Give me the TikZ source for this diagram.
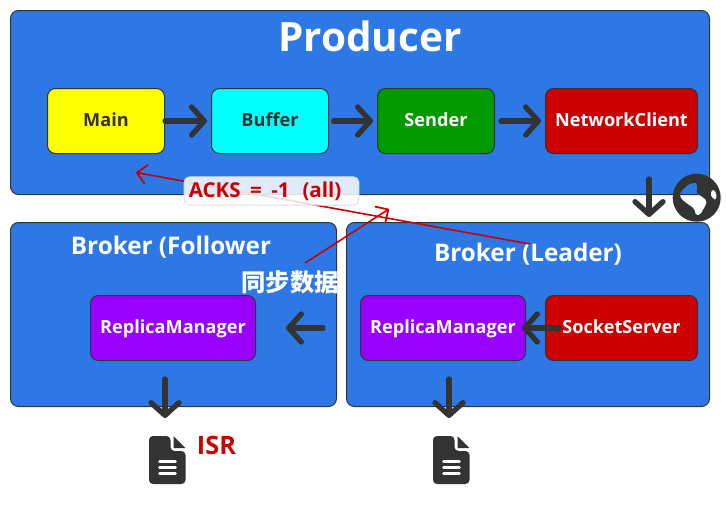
\documentclass[tikz,border=0pt]{standalone}
\usepackage{fontspec}
\setmainfont{Open Sans}
\newfontfamily\cjkfont{Noto Sans CJK SC}
\usetikzlibrary{arrows.meta,positioning,calc}
\definecolor{panelblue}{RGB}{45,120,228}
\definecolor{darkline}{RGB}{51,51,51}
\definecolor{ackred}{RGB}{204,0,0}
\definecolor{rmpurple}{RGB}{153,0,255}
\definecolor{sendgreen}{RGB}{0,153,0}
\definecolor{mainyellow}{RGB}{255,255,0}
\definecolor{buffercyan}{RGB}{0,255,255}
\tikzset{
    fileicon/.pic={
        \fill[darkline, rounded corners=3] (149,436) -- (170.5,436) -- (170.5,451) -- (185.5,451) -- (185.5,484) -- (149,484) -- cycle;
        \fill[darkline] (173.5,436) -- (185.5,448) -- (173.5,448) -- cycle;
        \foreach \ly in {461.5,467.5,473.5} {
            \draw[white, line width=1.9pt, line cap=round] (159.5,\ly) -- (175.5,\ly);
        }
    },
}

\begin{document}
\begin{tikzpicture}[
    x=0.75pt, y=-0.75pt,
    panel_box/.style={draw=darkline, fill=panelblue, rounded corners=6, line width=0.75pt},
    part_box/.style={draw=darkline, rounded corners=6, line width=0.75pt, inner sep=0pt, text=white, text height=10pt, text depth=2.5pt, font=\fontsize{13.6}{16}\selectfont\bfseries},
    dark_text/.style={text=darkline},
    title_text/.style={text=white, font=\fontsize{18.2}{22}\selectfont\bfseries},
    flow_arrow/.style={-{Straight Barb[length=9.5pt, width=21pt, round, line width=4pt]}, line width=4pt, line cap=round, draw=darkline},
    red_arrow/.style={-{Straight Barb[length=7pt, width=14pt, round, line width=1.3pt]}, line width=1.2pt, draw=ackred},
]
\path[fill=white, use as bounding box] (0,0) rectangle (726,507);

% Panels
\node[panel_box, minimum width=524.25pt, minimum height=138pt] (producer) at (360,102.5) {};
\node[panel_box, minimum width=244.5pt, minimum height=138pt] (follower) at (173.5,314.5) {};
\node[panel_box, minimum width=272.25pt, minimum height=138pt] (leader) at (528,314.5) {};

\node[text=white, font=\fontsize{30.3}{36}\selectfont\bfseries] (producer_title) at (370,36) {Producer};
\node[title_text] (follower_title) at (171,247) {Broker (Follower};
\node[title_text] (leader_title) at (528,254.5) {Broker (Leader)};

% Producer parts
\node[part_box, dark_text, fill=mainyellow, minimum width=87.75pt, minimum height=48.75pt] (main) at (106,121) {Main};
\node[part_box, dark_text, fill=buffercyan, minimum width=87.75pt, minimum height=48.75pt] (buffer) at (270,121) {Buffer};
\node[part_box, fill=sendgreen, minimum width=87.75pt, minimum height=48.75pt] (sender) at (436,121) {Sender};
\node[part_box, fill=ackred, minimum width=114pt, minimum height=48.75pt] (client) at (621.5,121) {NetworkClient};

% Broker parts
\node[part_box, fill=rmpurple, minimum width=123.75pt, minimum height=48.75pt] (follower_rm) at (173,328) {ReplicaManager};
\node[part_box, fill=rmpurple, minimum width=123.75pt, minimum height=48.75pt] (leader_rm) at (443,328) {ReplicaManager};
\node[part_box, fill=ackred, minimum width=114pt, minimum height=48.75pt] (socket) at (621.5,328) {SocketServer};

% Flow arrows
\draw[flow_arrow, shorten >=3pt] (main) -- (buffer);
\draw[flow_arrow, shorten <=3.5pt, shorten >=3pt] (buffer) -- (sender);
\draw[flow_arrow, shorten <=4.5pt, shorten >=3pt] (sender) -- (client);
\draw[flow_arrow, shorten <=27.75pt, shorten >=22.5pt] (leader_rm) -- (follower_rm);
\draw[flow_arrow, shorten <=-10.5pt, shorten >=-3pt] (socket.west) -- (leader_rm.east);

% Globe
\coordinate (net_start) at (649,179);
\node[minimum size=36pt, inner sep=0pt] (globe) at (696.7,197.7) {};
\draw[flow_arrow] (net_start) -- (649,217);
\fill[darkline, even odd rule] (globe) circle[radius=24]
    [rounded corners=1.5pt] (680.7,191.7) -- (688.3,184.3) -- (696,182.3) -- (697.7,187.7) -- (696,193.3) -- (700,195) -- (707.3,201) -- (705,206.7) -- (700,215) -- (696,215.7) -- (694,208.3) -- (690,205.7) -- (683.3,201) -- (679.3,195.7) -- cycle
    (710,193.3) -- (713.3,189) -- (716.7,193.3) -- (716,200) -- (712.7,199) -- cycle;

% Log files
\coordinate (log_one) at (165,379);
\coordinate (log_two) at (449,379);
\coordinate (file_one) at (167,436);
\coordinate (file_two) at (451,436);
\draw[flow_arrow, shorten >=13.5pt] (log_one) -- (log_one |- file_one);
\draw[flow_arrow, shorten >=13.5pt] (log_two) -- (log_two |- file_two);
\pic at (0,0) {fileicon};
\pic at (284,0) {fileicon};
\node[text=ackred, font=\fontsize{19}{22}\selectfont\bfseries] (isr) at (216.5,445) {ISR};

% Annotations
\coordinate (ack_start) at (530,244);
\coordinate (ack_end) at (136,172.5);
\coordinate (sync_end) at (389,209);
\coordinate (sync_start) at (305,263);
\draw[red_arrow] (ack_start) -- (ack_end);
\node[title_text] (sync) at (290,282) {\cjkfont 同步数据};
\draw[red_arrow] (sync_start) -- (sync_end);
\node[draw=black!12, fill=white, fill opacity=0.85, text opacity=1, rounded corners=4, line width=0.75pt, minimum width=131pt, minimum height=21pt, text=ackred, inner sep=3.5pt, text width=124pt, font=\fontsize{15.4}{18}\selectfont\bfseries] (acks) at (271.5,191) {ACKS\hspace{2pt} =\hspace{2pt} -1\hspace{4.5pt} (all)};
\end{tikzpicture}
\end{document}
